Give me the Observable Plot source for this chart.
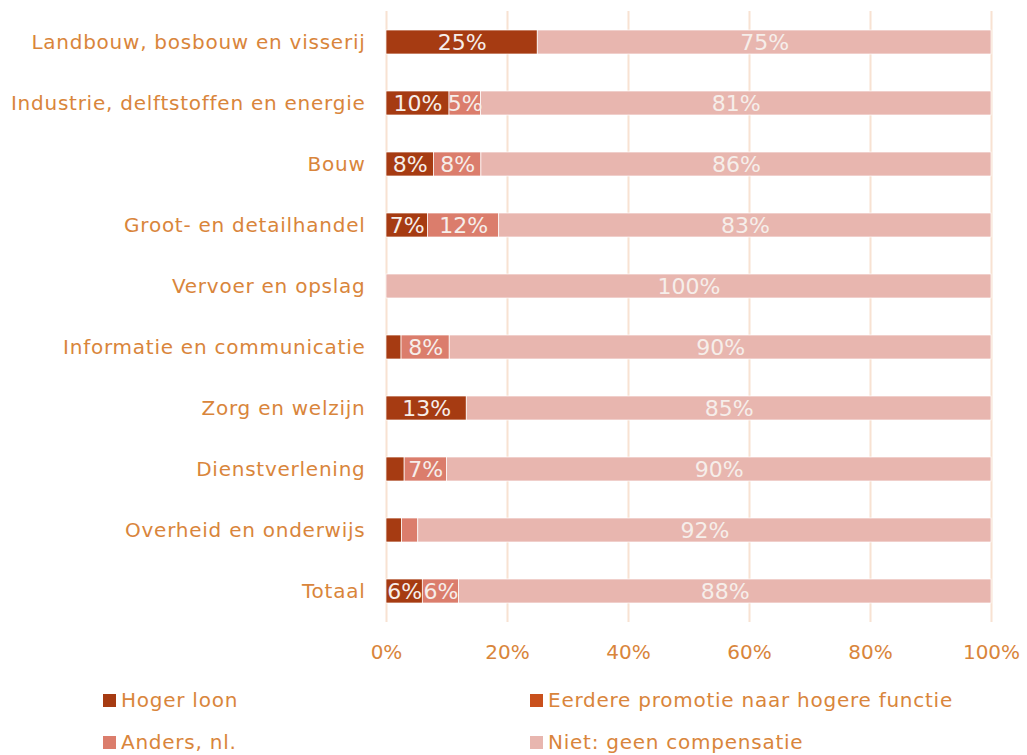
<!DOCTYPE html>
<html>
<head>
<meta charset="utf-8">
<script src="https://cdn.jsdelivr.net/npm/d3@7"></script>
<script src="https://cdn.jsdelivr.net/npm/@observablehq/plot@0.6"></script>
<style>
  html, body { margin: 0; padding: 0; background: #fff; }
  body { width: 1027px; height: 755px; overflow: hidden; font-family: "DejaVu Sans", Verdana, sans-serif; }
  #legend { display: grid; grid-template-columns: 427px 420px; margin-left: 103px; row-gap: 16px; margin-top: 12px; }
  .item { display: flex; align-items: center; font-size: 20px; letter-spacing: 0.75px; color: #D9853B; height: 26px; white-space: nowrap; }
  .sw { width: 13px; height: 13px; margin-right: 5px; flex: none; }
  .ylab text { letter-spacing: 0.75px; }
</style>
</head>
<body>
<div id="chart"></div>
<div id="legend"></div>
<script>
const categories = [
  "Landbouw, bosbouw en visserij",
  "Industrie, delftstoffen en energie",
  "Bouw",
  "Groot- en detailhandel",
  "Vervoer en opslag",
  "Informatie en communicatie",
  "Zorg en welzijn",
  "Dienstverlening",
  "Overheid en onderwijs",
  "Totaal"
];
const seriesNames = ["Hoger loon", "Eerdere promotie naar hogere functie", "Anders, nl.", "Niet: geen compensatie"];
const seriesColors = ["#A63B12", "#C9501C", "#DB7D6C", "#E8B6AF"];
const hogerLoon       = [25, 10, 8, 7, 0, 2.5, 13, 3, 2.5, 6];
const eerderePromotie = [0, 0, 0, 0, 0, 0, 0, 0, 0, 0];
const anders          = [0, 5, 8, 12, 0, 8, 0, 7, 2.6, 6];
const niet            = [75, 81, 86, 83, 100, 90, 85, 90, 92, 88];
const xTicks = [0, 0.2, 0.4, 0.6, 0.8, 1];

const seriesValues = [hogerLoon, eerderePromotie, anders, niet];
const data = [];
categories.forEach((c, i) => {
  seriesNames.forEach((s, j) => {
    data.push({cat: c, series: s, value: seriesValues[j][i]});
  });
});

const textColor = "#D9853B";
const chart = Plot.plot({
  width: 1027,
  height: 675,
  marginLeft: 386,
  marginRight: 36,
  marginTop: 11,
  marginBottom: 53,
  style: {fontFamily: "'DejaVu Sans', Verdana, sans-serif", fontSize: "20px", color: textColor, background: "#fff"},
  x: {domain: [0, 1], ticks: xTicks, tickFormat: d => Math.round(d * 100) + "%", grid: false, label: null},
  y: {domain: categories, paddingInner: 0.607, paddingOuter: 0.31, label: null},
  color: {domain: seriesNames, range: seriesColors},
  marks: [
    Plot.ruleX(xTicks, {stroke: "#F8E2D2", strokeWidth: 2}),
    Plot.barX(data, Plot.stackX({offset: "normalize", x: "value", y: "cat", fill: "series", z: "series", order: seriesNames, stroke: "#fff", strokeWidth: 0.7})),
    Plot.text(data, Plot.stackX({offset: "normalize", x: "value", y: "cat", z: "series", order: seriesNames,
      text: d => d.value >= 5 ? Math.round(d.value) + "%" : null, fill: "#F6EEEA", fontSize: 22})),
    Plot.axisX({ticks: xTicks, tickFormat: d => Math.round(d * 100) + "%", tickSize: 0, tickPadding: 22, fill: textColor, fontSize: 20}),
    Plot.axisY({tickSize: 0, tickPadding: 21, fill: textColor, fontSize: 20, className: "ylab"})
  ]
});
document.getElementById("chart").appendChild(chart);

const legend = document.getElementById("legend");
[0, 1, 2, 3].forEach(j => {
  const it = document.createElement("div");
  it.className = "item";
  const sw = document.createElement("span");
  sw.className = "sw";
  sw.style.background = seriesColors[j];
  const t = document.createElement("span");
  t.textContent = seriesNames[j];
  it.appendChild(sw); it.appendChild(t);
  legend.appendChild(it);
});
</script>
</body>
</html>
